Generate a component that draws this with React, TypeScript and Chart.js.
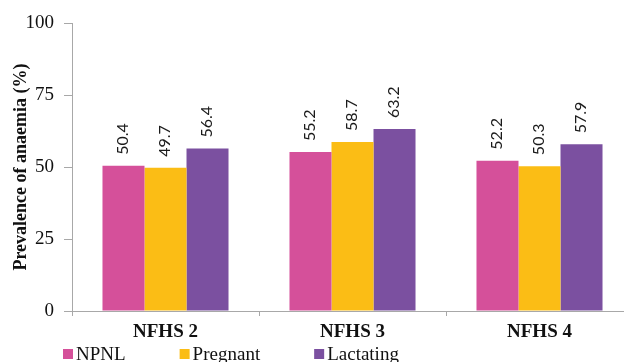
import React, { useEffect, useRef } from "react";
import { Chart, registerables } from "chart.js";

Chart.register(...registerables);

const categories = ["NFHS 2", "NFHS 3", "NFHS 4"];
const seriesNames = ["NPNL", "Pregnant", "Lactating"];
const npnl = [50.4, 55.2, 52.2];
const pregnant = [49.7, 58.7, 50.3];
const lactating = [56.4, 63.2, 57.9];
const yTicks = [0, 25, 50, 75, 100];
const yTitle = "Prevalence of anaemia (%)";

const colors = ["#D5509A", "#FBBD15", "#7B50A0"];
const axisGray = "#A8A8A8";
const serif = "'Liberation Serif', 'Times New Roman', serif";

// Values written vertically above each bar
const barValueLabels = {
  id: "barValueLabels",
  afterDatasetsDraw(chart: any) {
    const { ctx } = chart;
    ctx.save();
    ctx.font = "16px Lato, 'Open Sans', sans-serif";
    ctx.fillStyle = "#1a1a1a";
    ctx.textAlign = "left";
    ctx.textBaseline = "middle";
    chart.data.datasets.forEach((ds: any, di: number) => {
      const meta = chart.getDatasetMeta(di);
      meta.data.forEach((bar: any, i: number) => {
        const v = ds.data[i];
        ctx.save();
        ctx.translate(bar.x - 1, bar.y - 11);
        ctx.rotate(-Math.PI / 2);
        ctx.fillText(v.toFixed(1), 0, 0);
        ctx.restore();
      });
    });
    ctx.restore();
  },
};

// Legend row under the category labels
const bottomLegend = {
  id: "bottomLegend",
  afterDraw(chart: any) {
    const { ctx } = chart;
    ctx.save();
    ctx.font = `19px ${serif}`;
    ctx.textBaseline = "middle";
    ctx.textAlign = "left";
    let x = 63;
    const cy = 354;
    chart.data.datasets.forEach((ds: any) => {
      ctx.fillStyle = ds.backgroundColor;
      ctx.fillRect(x, cy - 5, 10, 10);
      ctx.fillStyle = "#111";
      const tx = x + 13;
      ctx.fillText(ds.label, tx, cy + 1);
      x = tx + ctx.measureText(ds.label).width + 54;
    });
    ctx.restore();
  },
};

export default function App() {
  const canvasRef = useRef<HTMLCanvasElement | null>(null);

  useEffect(() => {
    document.body.style.margin = "0";
    const canvas = canvasRef.current;
    if (!canvas) return;
    const data = [npnl, pregnant, lactating];
    const chart = new Chart(canvas, {
      type: "bar",
      data: {
        labels: categories,
        datasets: seriesNames.map((name, i) => ({
          label: name,
          data: data[i],
          backgroundColor: colors[i],
          borderWidth: 0,
          barPercentage: 1,
          categoryPercentage: 0.674,
        })),
      },
      options: {
        responsive: false,
        animation: false,
        layout: { padding: { top: 23, right: 7, left: 0, bottom: 0 } },
        plugins: {
          legend: { display: false },
          tooltip: { enabled: false },
        },
        scales: {
          x: {
            grid: {
              display: true,
              drawOnChartArea: false,
              offset: true,
              tickLength: 5,
              color: axisGray,
            },
            border: { color: axisGray, width: 1 },
            ticks: {
              color: "#111",
              padding: 5,
              font: { family: serif, size: 19, weight: "bold" },
            },
            afterFit(scale: any) {
              scale.height = 51;
            },
          },
          y: {
            min: 0,
            max: 100,
            afterBuildTicks(scale: any) {
              scale.ticks = yTicks.map((v) => ({ value: v }));
            },
            grid: {
              display: true,
              drawOnChartArea: false,
              tickLength: 8,
              color: axisGray,
            },
            border: { color: axisGray, width: 1 },
            ticks: {
              color: "#111",
              padding: 10,
              font: { family: serif, size: 19 },
            },
            title: {
              display: true,
              text: yTitle,
              color: "#111",
              padding: { top: 11, bottom: 0 },
              font: { family: serif, size: 18, weight: "bold" },
            },
            afterFit(scale: any) {
              scale.width = 72;
            },
          },
        },
      },
      plugins: [barValueLabels, bottomLegend],
    });
    return () => chart.destroy();
  }, []);

  return (
    <div style={{ width: 624, height: 362, overflow: "hidden", background: "#fff" }}>
      <canvas ref={canvasRef} width={640} height={362} style={{ display: "block" }} />
    </div>
  );
}
